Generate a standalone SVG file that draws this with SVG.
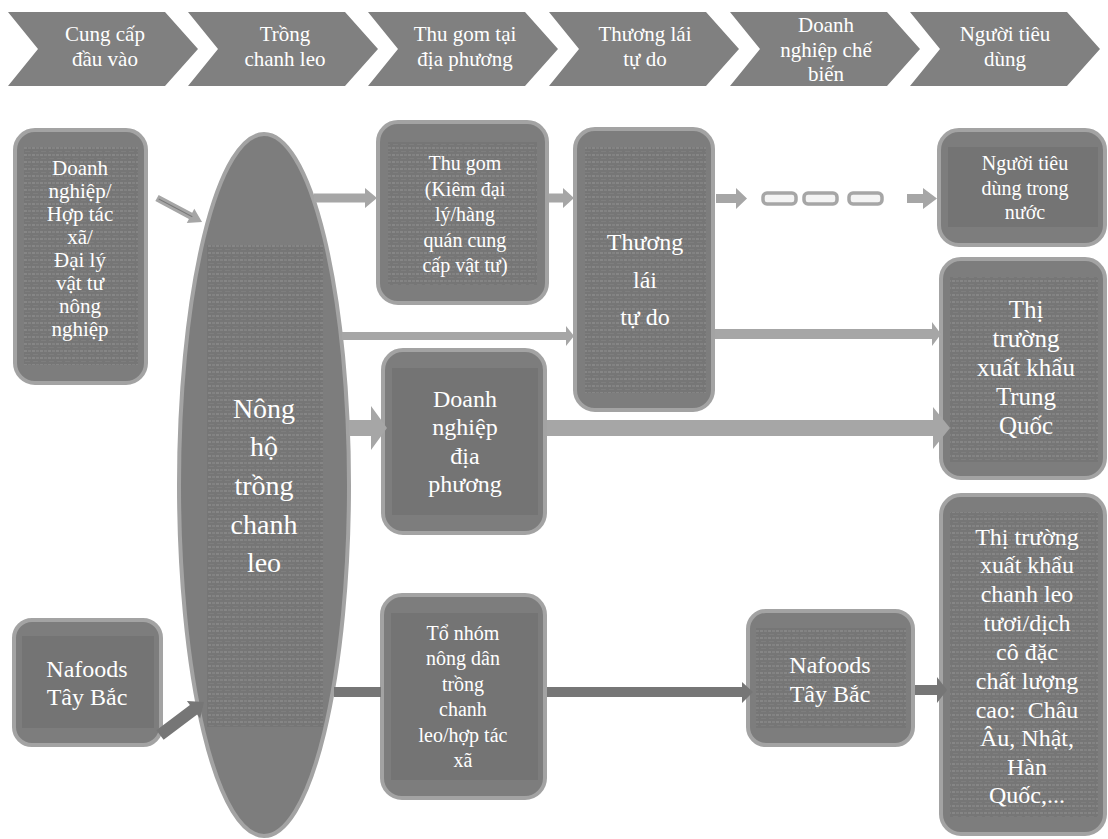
<svg xmlns="http://www.w3.org/2000/svg" width="1108" height="839" viewBox="0 0 1108 839" font-family="'Liberation Serif', 'Times New Roman', Tinos, 'DejaVu Serif', serif">
<style>
.chev{fill:#808080}
.ht{font-family:'Liberation Serif','Times New Roman',Tinos,'DejaVu Serif',serif;font-size:21px;fill:#fff;text-anchor:middle}
.nt{font-family:'Liberation Serif','Times New Roman',Tinos,'DejaVu Serif',serif;fill:#fff;text-anchor:middle;white-space:pre}
.box{fill:#7d7d7d;stroke:#a3a3a3;stroke-width:4}
.in{fill:#747474}
.tx{fill:url(#tex)}
.la{fill:#a6a6a6}
.da{fill:#767676}
.dash{fill:#f4f4f4;stroke:#a6a6a6;stroke-width:3.5}
</style>
<defs>
<pattern id="tex" width="8" height="7" patternUnits="userSpaceOnUse">
<rect width="8" height="7" fill="#767676"/>
<rect x="0" y="0" width="3" height="2" fill="#868686"/>
<rect x="4" y="0" width="3" height="2" fill="#828282"/>
<rect x="1" y="4" width="5" height="1" fill="#7e7e7e"/>
</pattern>
</defs>
<rect width="1108" height="839" fill="#fff"/>

<g id="header">
<g id="h1"><polygon class="chev" points="8,12 165,12 198,49 165,86 8,86 38,49"/>
<text class="ht" x="105" y="41">Cung cấp</text><text class="ht" x="105" y="66">đầu vào</text></g>
<g id="h2"><polygon class="chev" points="188,12 345,12 378,49 345,86 188,86 218,49"/>
<text class="ht" x="285" y="41">Trồng</text><text class="ht" x="285" y="66">chanh leo</text></g>
<g id="h3"><polygon class="chev" points="368,12 525,12 558,49 525,86 368,86 398,49"/>
<text class="ht" x="465" y="41">Thu gom tại</text><text class="ht" x="465" y="66">địa phương</text></g>
<g id="h4"><polygon class="chev" points="549,12 706,12 739,49 706,86 549,86 579,49"/>
<text class="ht" x="645" y="41">Thương lái</text><text class="ht" x="645" y="66">tự do</text></g>
<g id="h5"><polygon class="chev" points="730,12 887,12 920,49 887,86 730,86 760,49"/>
<text class="ht" x="826" y="32">Doanh</text><text class="ht" x="826" y="57">nghiệp chế</text><text class="ht" x="826" y="81">biến</text></g>
<g id="h6"><polygon class="chev" points="910,12 1067,12 1100,49 1067,86 910,86 940,49"/>
<text class="ht" x="1005" y="41">Người tiêu</text><text class="ht" x="1005" y="66">dùng</text></g>
</g>

<g id="n-dn-left">
<rect class="box" x="15" y="130" width="131" height="253" rx="20"/>
<rect class="tx" x="24" y="147" width="114" height="218"/>
<text class="nt" font-size="21" x="80" y="175">Doanh</text>
<text class="nt" font-size="21" x="80" y="198">nghiệp/</text>
<text class="nt" font-size="21" x="80" y="221">Hợp tác</text>
<text class="nt" font-size="21" x="80" y="244">xã/</text>
<text class="nt" font-size="21" x="80" y="267">Đại lý</text>
<text class="nt" font-size="21" x="80" y="290">vật tư</text>
<text class="nt" font-size="21" x="80" y="313">nông</text>
<text class="nt" font-size="21" x="80" y="336">nghiệp</text>
</g>

<g id="n-nongho">
<ellipse class="box" cx="264" cy="485" rx="85" ry="351"/>
<rect class="tx" x="207" y="245" width="116" height="482"/>
<text class="nt" font-size="28" x="264" y="418">Nông</text>
<text class="nt" font-size="28" x="264" y="456">hộ</text>
<text class="nt" font-size="28" x="264" y="495">trồng</text>
<text class="nt" font-size="28" x="264" y="534">chanh</text>
<text class="nt" font-size="28" x="264" y="572">leo</text>
</g>

<g id="n-thugom">
<rect class="box" x="378" y="122" width="169" height="181" rx="20"/>
<rect class="tx" x="388" y="142" width="149" height="143"/>
<text class="nt" font-size="20" x="465" y="170">Thu gom</text>
<text class="nt" font-size="20" x="465" y="196">(Kiêm đại</text>
<text class="nt" font-size="20" x="465" y="221">lý/hàng</text>
<text class="nt" font-size="20" x="465" y="247">quán cung</text>
<text class="nt" font-size="20" x="465" y="272">cấp vật tư)</text>
</g>

<g id="n-thuonglai">
<rect class="box" x="575" y="129" width="138" height="281" rx="20"/>
<rect class="tx" x="585" y="147" width="121" height="246"/>
<text class="nt" font-size="24" x="645" y="250">Thương</text>
<text class="nt" font-size="24" x="645" y="288">lái</text>
<text class="nt" font-size="24" x="645" y="325">tự do</text>
</g>

<g id="n-ntd">
<rect class="box" x="939" y="130" width="166" height="115" rx="20"/>
<rect class="in" x="948" y="147" width="150" height="80"/>
<text class="nt" font-size="20" x="1025" y="170">Người tiêu</text>
<text class="nt" font-size="20" x="1025" y="195">dùng trong</text>
<text class="nt" font-size="20" x="1025" y="219">nước</text>
</g>

<g id="n-tq">
<rect class="box" x="941" y="259" width="164" height="219" rx="20"/>
<rect class="tx" x="950" y="277" width="148" height="185"/>
<text class="nt" font-size="25" x="1026" y="318">Thị</text>
<text class="nt" font-size="25" x="1026" y="347">trường</text>
<text class="nt" font-size="25" x="1026" y="376">xuất khẩu</text>
<text class="nt" font-size="25" x="1026" y="405">Trung</text>
<text class="nt" font-size="25" x="1026" y="434">Quốc</text>
</g>

<g id="n-dndp">
<rect class="box" x="383" y="350" width="162" height="183" rx="20"/>
<rect class="in" x="392" y="368" width="146" height="147"/>
<text class="nt" font-size="24" x="465" y="407">Doanh</text>
<text class="nt" font-size="24" x="465" y="435">nghiệp</text>
<text class="nt" font-size="24" x="465" y="464">địa</text>
<text class="nt" font-size="24" x="465" y="492">phương</text>
</g>

<g id="n-nafoods-left">
<rect class="box" x="14" y="620" width="147" height="125" rx="18"/>
<rect class="in" x="22" y="636" width="132" height="92"/>
<text class="nt" font-size="24" x="87" y="677">Nafoods</text>
<text class="nt" font-size="24" x="87" y="705">Tây Bắc</text>
</g>

<g id="n-tonhom">
<rect class="box" x="382" y="595" width="163" height="203" rx="20"/>
<rect class="in" x="391" y="613" width="147" height="167"/>
<text class="nt" font-size="20" x="463" y="640">Tổ nhóm</text>
<text class="nt" font-size="20" x="463" y="665">nông dân</text>
<text class="nt" font-size="20" x="463" y="691">trồng</text>
<text class="nt" font-size="20" x="463" y="716">chanh</text>
<text class="nt" font-size="20" x="463" y="742">leo/hợp tác</text>
<text class="nt" font-size="20" x="463" y="767">xã</text>
</g>

<g id="n-nafoods">
<rect class="box" x="748" y="611" width="165" height="134" rx="18"/>
<rect class="tx" x="756" y="628" width="150" height="100"/>
<text class="nt" font-size="24" x="830" y="673">Nafoods</text>
<text class="nt" font-size="24" x="830" y="702">Tây Bắc</text>
</g>

<g id="n-export">
<rect class="box" x="941" y="495" width="164" height="339" rx="20"/>
<rect class="tx" x="950" y="512" width="148" height="305"/>
<text class="nt" font-size="24" x="1027" y="545">Thị trường</text>
<text class="nt" font-size="24" x="1027" y="573">xuất khẩu</text>
<text class="nt" font-size="24" x="1027" y="602">chanh leo</text>
<text class="nt" font-size="24" x="1027" y="631">tươi/dịch</text>
<text class="nt" font-size="24" x="1027" y="660">cô đặc</text>
<text class="nt" font-size="24" x="1027" y="689">chất lượng</text>
<text class="nt" font-size="24" x="1027" y="718">cao:  Châu</text>
<text class="nt" font-size="24" x="1027" y="746">Âu, Nhật,</text>
<text class="nt" font-size="24" x="1027" y="775">Hàn</text>
<text class="nt" font-size="24" x="1027" y="803">Quốc,...</text>
</g>

<g id="connectors">
<g transform="translate(157,198) rotate(28)">
<polygon class="la" points="0,-3.5 38,-3.5 38,-8 51,0 38,8 38,3.5 0,3.5"/>
<line x1="2" y1="0" x2="40" y2="0" stroke="#7a7a7a" stroke-width="1"/>
</g>
<g transform="translate(160,735) rotate(-37)">
<polygon class="da" points="0,-6 42,-6 42,-11 55,0 42,11 42,6 0,6"/>
</g>
<polygon class="la" points="314,193.5 365,193.5 365,188 377,198 365,208 365,202.5 314,202.5"/>
<polygon class="la" points="549,193.5 563,193.5 563,188 574,198 563,208 563,202.5 549,202.5"/>
<polygon class="la" points="716,194 736,194 736,188 747,198.5 736,209 736,203 716,203"/>
<rect class="dash" x="763" y="193" width="33" height="11" rx="4"/>
<rect class="dash" x="804" y="193" width="33" height="11" rx="4"/>
<rect class="dash" x="849" y="193" width="33" height="11" rx="4"/>
<polygon class="la" points="907,194 923,194 923,188 937,198.5 923,209 923,203 907,203"/>
<polygon class="la" points="342,332 566,332 566,326 574,336 566,346 566,340 342,340"/>
<polygon class="la" points="715,329 932,329 932,322 941,334 932,346 932,339 715,339"/>
<polygon class="la" points="349,420 371,420 371,406 387,428 371,450 371,436 349,436"/>
<polygon class="la" points="547,420 933,420 933,407 950,428 933,449 933,436 547,436"/>
<rect class="da" x="334" y="687" width="47" height="10"/>
<polygon class="da" points="547,687 742,687 742,682 753,692 742,703 742,697 547,697"/>
<polygon class="da" points="915,685 937,685 937,677 947,690 937,703 937,695 915,695"/>
</g>
</svg>
